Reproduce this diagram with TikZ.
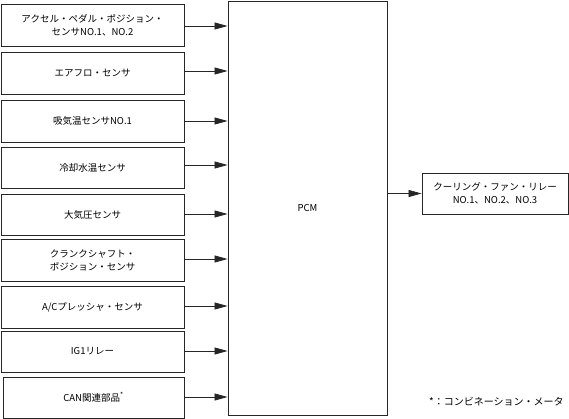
\documentclass[tikz,border=0pt]{standalone}
\usepackage{fontspec}
\setmainfont{Noto Sans CJK JP}
\usetikzlibrary{arrows.meta}
\begin{document}
\begin{tikzpicture}[x=1pt,y=-1pt,
  box/.style={draw=black!85,line width=0.9pt,minimum width=183pt,inner sep=0pt,align=center,font=\fontsize{9.5}{13}\selectfont},
  arr/.style={draw=black!85,line width=0.8pt,-{Triangle[length=13pt,width=7pt]}}]
\useasboundingbox (0,0) rectangle (569,419);
\node[box,minimum height=42pt] (b1) at (92.5,25) {アクセル・ペダル・ポジション・\\センサNO.1、NO.2};
\node[box,minimum height=42pt] (b2) at (92.5,73) {エアフロ・センサ};
\node[box,minimum height=42pt] (b3) at (92.5,121) {吸気温センサNO.1};
\node[box,minimum height=41pt] (b4) at (92.5,167.5) {冷却水温センサ};
\node[box,minimum height=41pt] (b5) at (92.5,214.5) {大気圧センサ};
\node[box,minimum height=42pt] (b6) at (92.5,260) {クランクシャフト・\\ポジション・センサ};
\node[box,minimum height=42pt] (b7) at (92.5,307) {A/Cプレッシャ・センサ};
\node[box,minimum height=41pt] (b8) at (92.5,351.5) {IG1リレー};
\node[box,minimum width=181pt,minimum height=41pt] (b9) at (93.5,397.5) {CAN関連部品\textsuperscript{*}};
\node[box,minimum width=159pt,minimum height=414pt] (pcm) at (307.5,208) {PCM};
\node[box,minimum width=146pt,minimum height=41pt] (cf) at (495,193.5) {クーリング・ファン・リレー\\NO.1、NO.2、NO.3};
\node[font=\fontsize{10}{12}\selectfont,anchor=west,inner sep=0pt] (note) at (429,402) {*：コンビネーション・メータ};
\foreach \i/\yy in {1/26,2/71,3/121,4/165,5/214,6/259,7/306,8/351,9/397}{
  \draw[arr] (b\i.east |- 0,\yy) -- (pcm.west |- 0,\yy);
}
\draw[arr] (pcm.east |- cf.west) -- (cf.west);
\end{tikzpicture}
\end{document}
